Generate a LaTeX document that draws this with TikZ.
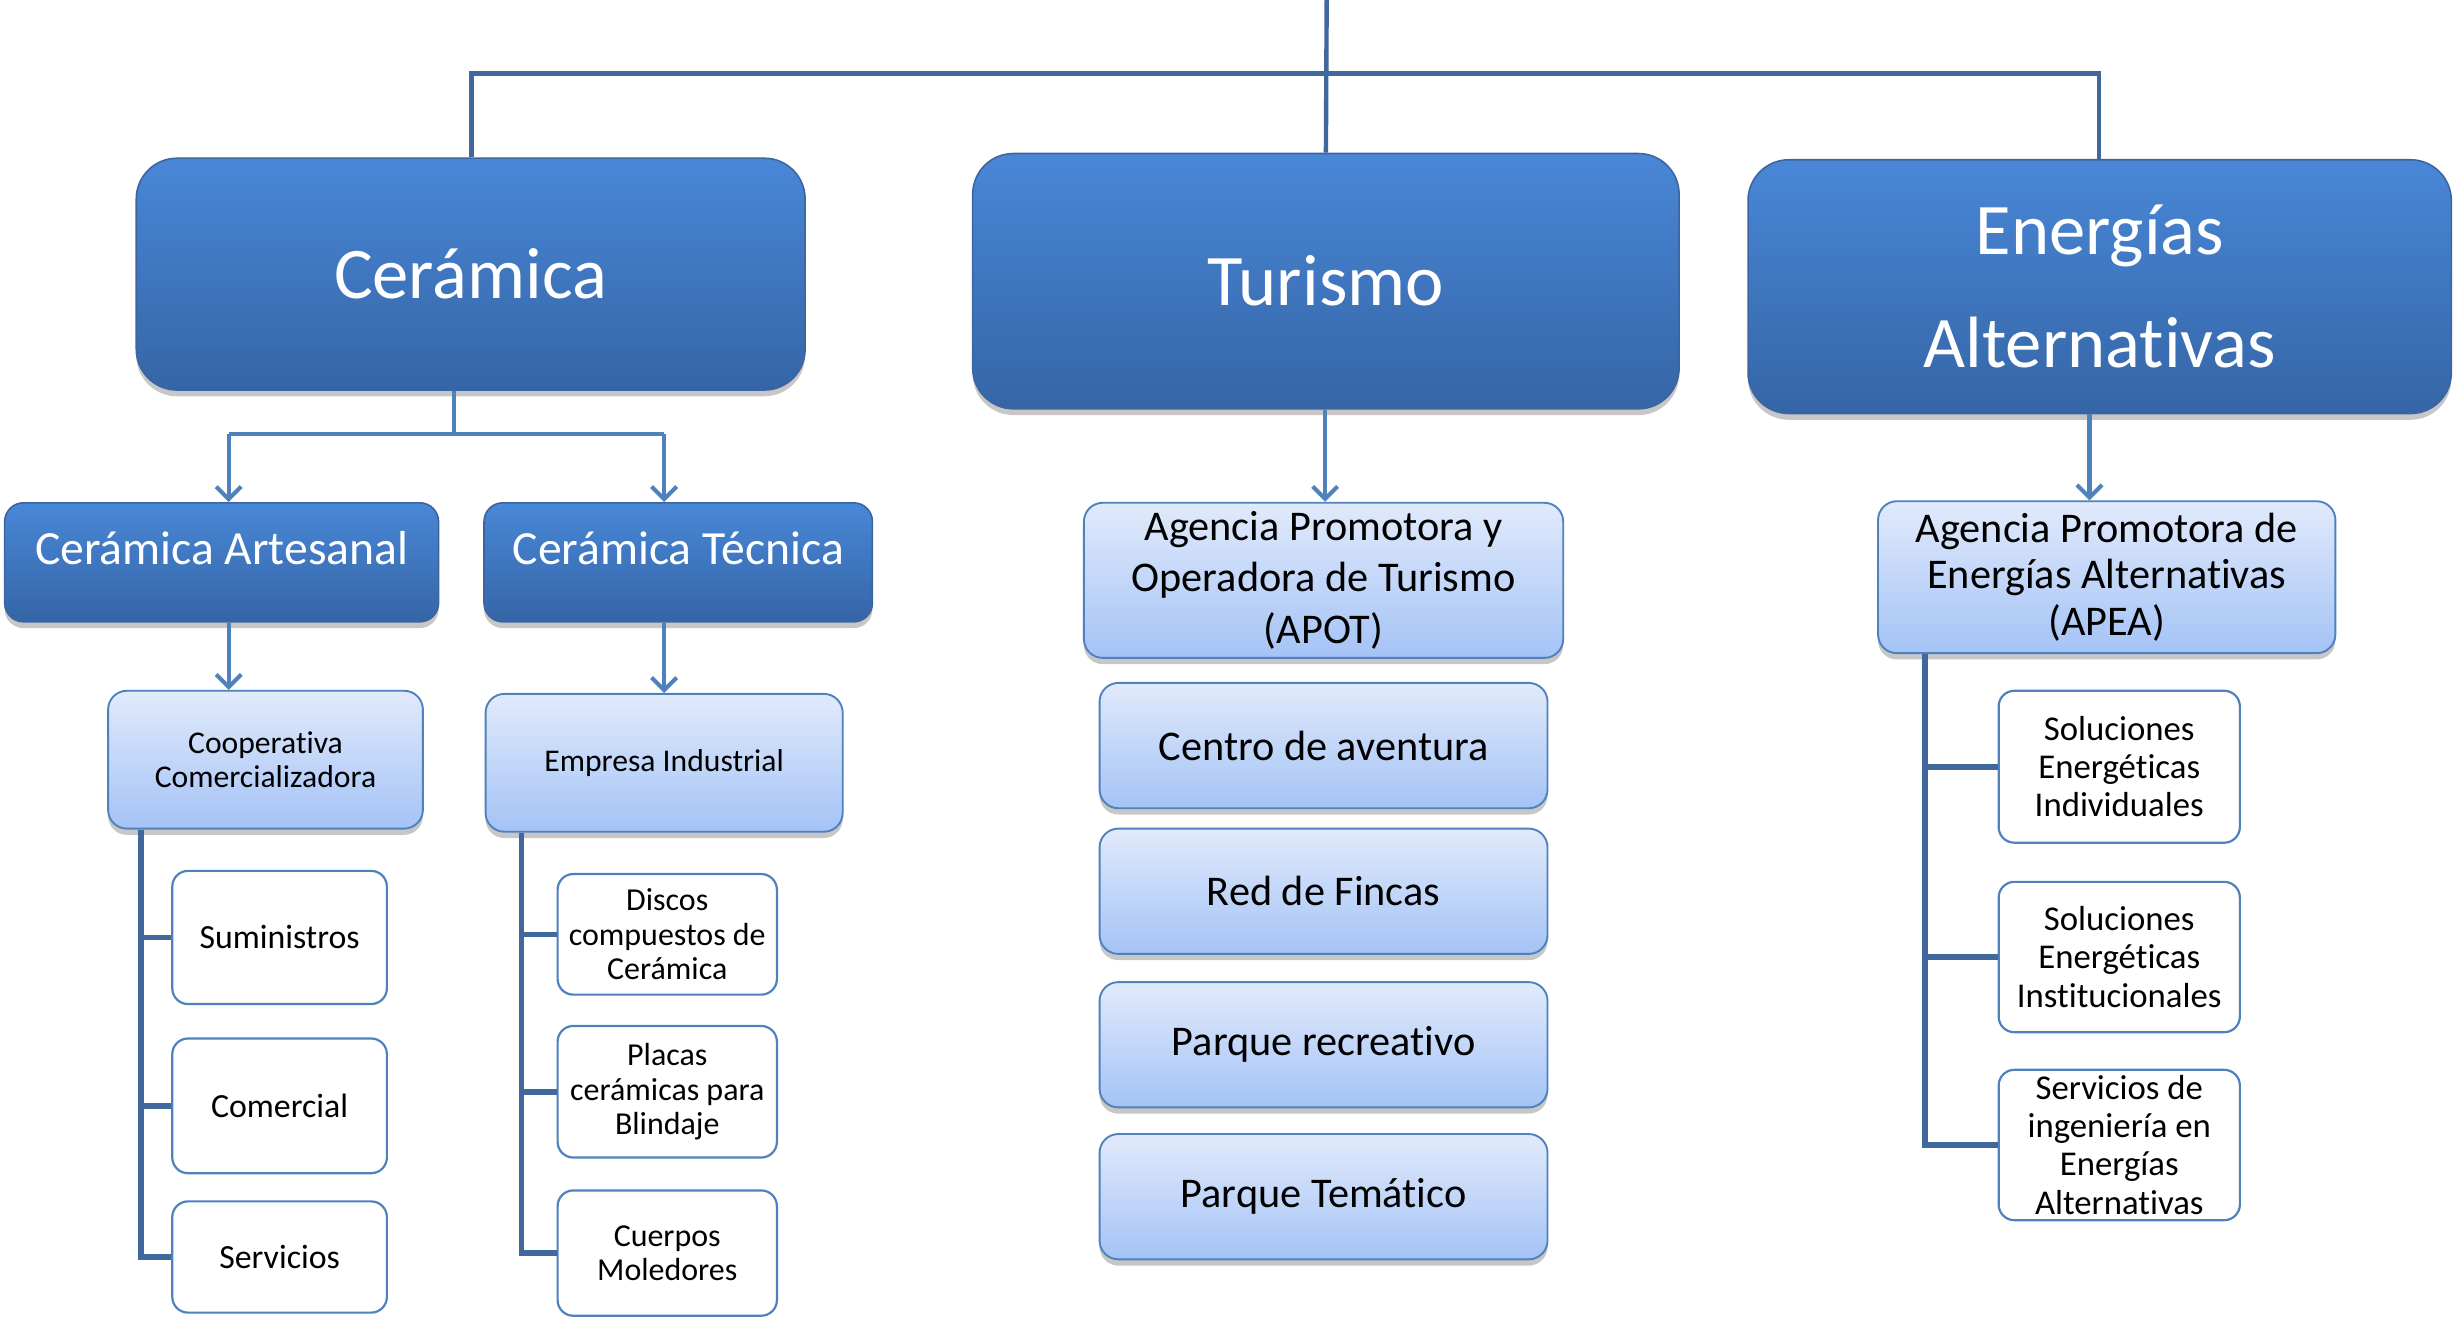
\documentclass[tikz,border=0pt]{standalone}
\usepackage{fontspec}
\setmainfont{Carlito}[Ligatures={NoCommon,NoRare,NoContextual}]
\usetikzlibrary{arrows.meta,shadows}
\definecolor{bigtop}{RGB}{73,135,215}
\definecolor{bigbot}{RGB}{53,101,166}
\definecolor{bigedge}{RGB}{60,100,160}
\definecolor{lighttop}{RGB}{225,234,251}
\definecolor{lightbot}{RGB}{164,195,246}
\definecolor{boxedge}{RGB}{79,129,189}
\definecolor{darkline}{RGB}{65,104,156}
\definecolor{arrowcol}{RGB}{79,129,189}
\tikzset{
  shad/.style={drop shadow={shadow xshift=0pt,shadow yshift=-2pt,opacity=0.22,fill=black}},
  bigbox/.style={shad,draw=bigedge,line width=0.5pt,top color=bigtop,bottom color=bigbot,
     rounded corners=13pt,text=white,align=center,inner sep=0pt},
  midbox/.style={shad,draw=bigedge,line width=0.5pt,top color=bigtop,bottom color=bigbot,
     rounded corners=6pt,inner sep=0pt},
  lightbox/.style={shad,draw=boxedge,line width=0.6pt,top color=lighttop,bottom color=lightbot,
     rounded corners=6pt,align=center,inner sep=0pt,text=black},
  whitebox/.style={draw=boxedge,line width=0.7pt,fill=white,rounded corners=5pt,
     align=center,inner sep=0pt,text=black},
  topline/.style={draw=darkline,line width=1.4pt},
  arr/.style={draw=arrowcol,line width=1.3pt,-{Straight Barb[length=4pt,width=8pt,line width=1.3pt]}},
  arrline/.style={draw=arrowcol,line width=1.3pt},
  bracket/.style={draw=darkline,line width=1.8pt},
}
\begin{document}
\begin{tikzpicture}[x=0.5pt,y=-0.5pt]
\useasboundingbox (0,0) rectangle (1568,842);
\fill[white] (0,0) rectangle (1568,842);

% level 1
\node[bigbox,minimum width=213.5pt,minimum height=74pt,font=\fontsize{23.2}{36}\selectfont] (cer) at (300.5,175) {Cerámica};
\node[bigbox,minimum width=225.5pt,minimum height=81.5pt,font=\fontsize{23.2}{36}\selectfont] (tur) at (846.5,179.5) {Turismo};
\node[bigbox,minimum width=224.5pt,minimum height=81pt,font=\fontsize{23.2}{36}\selectfont] (ener) at (1340.5,183) {Energías\\Alternativas};

% level 2
\node[midbox,minimum width=138.5pt,minimum height=38pt] (cart) at (141.5,359) {};
\node[text=white,font=\fontsize{15.2}{18}\selectfont,inner sep=0pt] (cartt) at ([yshift=4.5pt]cart.center) {Cerámica Artesanal};
\node[midbox,minimum width=124pt,minimum height=38pt] (ctec) at (433,359) {};
\node[text=white,font=\fontsize{15.2}{18}\selectfont,inner sep=0pt] (ctect) at ([yshift=4.5pt]ctec.center) {Cerámica Técnica};

\node[lightbox,minimum width=100.5pt,minimum height=44pt,font=\fontsize{10.1}{11}\selectfont] (coop) at (169.5,485) {Cooperativa\\Comercializadora};
\node[lightbox,minimum width=114pt,minimum height=44pt,font=\fontsize{10.1}{11}\selectfont] (emp) at (424,487) {Empresa Industrial};

\node[whitebox,minimum width=68.5pt,minimum height=42.5pt,font=\fontsize{10.8}{12}\selectfont] (sum) at (178.5,598.5) {Suministros};
\node[whitebox,minimum width=68.5pt,minimum height=43pt,font=\fontsize{10.8}{12}\selectfont] (com) at (178.5,706) {Comercial};
\node[whitebox,minimum width=68.5pt,minimum height=35.5pt,font=\fontsize{10.8}{12}\selectfont] (ser) at (178.5,802.5) {Servicios};

\node[whitebox,minimum width=70pt,minimum height=38.5pt,font=\fontsize{10.2}{11}\selectfont] (dis) at (426,596.5) {Discos\\compuestos de\\Cerámica};
\node[whitebox,minimum width=70pt,minimum height=42pt,font=\fontsize{10.2}{11}\selectfont] (pla) at (426,697) {Placas\\cerámicas para\\Blindaje};
\node[whitebox,minimum width=70pt,minimum height=40pt,font=\fontsize{10.2}{10.7}\selectfont] (cue) at (426,800) {Cuerpos\\Moledores};

% turismo
\node[lightbox,minimum width=153pt,minimum height=49.5pt,font=\fontsize{13.5}{16.3}\selectfont] (apot) at (845,370.5) {Agencia Promotora y\\Operadora de Turismo\\(APOT)};
\node[lightbox,minimum width=143pt,minimum height=40pt,font=\fontsize{13.5}{16.3}\selectfont] (cen) at (845,476) {Centro de aventura};
\node[lightbox,minimum width=143pt,minimum height=40pt,font=\fontsize{13.5}{16.3}\selectfont] (red) at (845,569) {Red de Fincas};
\node[lightbox,minimum width=143pt,minimum height=40pt,font=\fontsize{13.5}{16.3}\selectfont] (par) at (845,667) {Parque recreativo};
\node[lightbox,minimum width=143pt,minimum height=40pt,font=\fontsize{13.5}{16.3}\selectfont] (tem) at (845,764) {Parque Temático};

% energias
\node[lightbox,minimum width=146pt,minimum height=48.5pt,font=\fontsize{13.5}{14.8}\selectfont] (apea) at (1345,368.5) {Agencia Promotora de\\Energías Alternativas\\(APEA)};
\node[whitebox,minimum width=77pt,minimum height=48.5pt,font=\fontsize{11.1}{12.2}\selectfont] (sol1) at (1353,489.5) {Soluciones\\Energéticas\\Individuales};
\node[whitebox,minimum width=77pt,minimum height=48pt,font=\fontsize{11.1}{12.2}\selectfont] (sol2) at (1353,611) {Soluciones\\Energéticas\\Institucionales};
\node[whitebox,minimum width=77pt,minimum height=48pt,font=\fontsize{11.1}{12.15}\selectfont] (sing) at (1353,731) {Servicios de\\ingeniería en\\Energías\\Alternativas};

% top connectors
\coordinate (topend) at (847,0);
\coordinate (hl) at (301,47);
\coordinate (hr) at (1340,47);
\draw[topline] (topend) -- (tur.north);
\draw[topline] (cer.north -| hl) -- (hl) -- (hr) -- (ener.north -| hr);

% ceramica split
\coordinate (cs) at (290,277);
\draw[arrline] (cer.south -| cs) -- (cs);
\draw[arrline] (146,277) -- (424,277);
\draw[arr] (146,277) -- (cart.north -| 146,0);
\draw[arr] (424,277) -- (ctec.north -| 424,0);

\draw[arr] (cart.south -| 146,0) -- (coop.north -| 146,0);
\draw[arr] (ctec.south -| 424,0) -- (emp.north -| 424,0);
\draw[arr] (tur.south -| 846,0) -- (apot.north -| 846,0);
\draw[arr] (ener.south -| 1334,0) -- (apea.north -| 1334,0);

% brackets
\draw[bracket] (coop.south -| 90,0) -- (ser.west -| 90,0) -- (ser.west);
\draw[bracket] (sum.west -| 90,0) -- (sum.west);
\draw[bracket] (com.west -| 90,0) -- (com.west);

\draw[bracket] (emp.south -| 333,0) -- (cue.west -| 333,0) -- (cue.west);
\draw[bracket] (dis.west -| 333,0) -- (dis.west);
\draw[bracket] (pla.west -| 333,0) -- (pla.west);

\draw[bracket] (apea.south -| 1229,0) -- (sing.west -| 1229,0) -- (sing.west);
\draw[bracket] (sol1.west -| 1229,0) -- (sol1.west);
\draw[bracket] (sol2.west -| 1229,0) -- (sol2.west);
\end{tikzpicture}
\end{document}
